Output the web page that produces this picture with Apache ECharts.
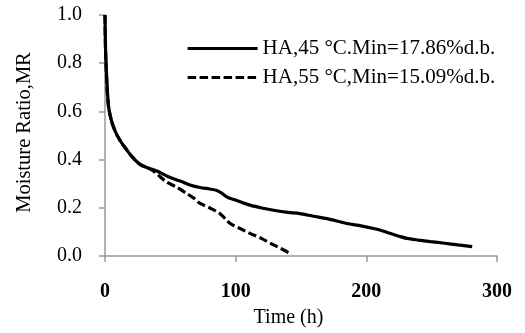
<!DOCTYPE html>
<html><head><meta charset="utf-8">
<script src="https://cdn.jsdelivr.net/npm/echarts@6/dist/echarts.min.js"></script>
<style>html,body{margin:0;padding:0;background:#fff}#c{width:525px;height:333px}</style>
</head><body><div id="c"></div>
<script>
var xTicks = [0, 100, 200, 300];
var yTicks = [0.0, 0.2, 0.4, 0.6, 0.8, 1.0];
var seriesNames = ['HA,45 °C.Min=17.86%d.b.', 'HA,55 °C,Min=15.09%d.b.'];
var ha45 = [[0,1.0],[0.4,0.86],[1,0.78],[2,0.67],[3,0.61],[5,0.56],[8,0.515],[12,0.475],[16,0.445],[21,0.41],[26.8,0.38],[33,0.365],[39.6,0.353],[48,0.33],[57.5,0.311],[65,0.295],[72.8,0.284],[80,0.278],[85.6,0.272],[89,0.262],[93.2,0.245],[100,0.232],[111,0.211],[120,0.199],[129,0.190],[140,0.181],[149,0.176],[159.6,0.165],[170,0.155],[185,0.135],[196,0.125],[205.6,0.114],[212,0.105],[218,0.094],[225,0.082],[231,0.073],[240,0.066],[249,0.060],[260,0.053],[270,0.046],[281,0.039]];
var ha55 = [[0,1.0],[0.4,0.86],[1,0.76],[2,0.66],[3,0.61],[5,0.56],[8,0.515],[12,0.475],[16,0.445],[21,0.41],[26.8,0.38],[33,0.365],[37,0.353],[42,0.33],[47,0.307],[55,0.285],[62.6,0.259],[68,0.24],[72.8,0.218],[80,0.2],[88,0.176],[92,0.155],[95.8,0.135],[103,0.115],[111,0.094],[120,0.072],[129,0.046],[135,0.03],[140.5,0.014]];

var chart = echarts.init(document.getElementById('c'), null, {renderer:'canvas'});
var font = '"Liberation Serif", "Times New Roman", serif';
chart.setOption({
  animation: false,
  grid: {left:105, right:28, top:15, bottom:72, containLabel:false},
  legend: {
    orient:'vertical', left:181, top:33, itemWidth:70, itemHeight:14, itemGap:8,
    data: seriesNames,
    itemStyle:{opacity:0},
    lineStyle:{width:3.2, type:'inherit', color:'#000'},
    textStyle:{fontFamily:font, fontSize:21, lineHeight:21, color:'#000'}
  },
  xAxis: {
    type:'value', min:xTicks[0], max:xTicks[xTicks.length-1], interval:100,
    name:'Time (h)', nameLocation:'middle', nameGap:52,
    nameTextStyle:{fontFamily:font, fontSize:20, color:'#000', padding:[0,25,0,0]},
    axisLine:{lineStyle:{color:'#999', width:1.5}},
    axisTick:{show:true, length:6, lineStyle:{color:'#999', width:1.5}},
    axisLabel:{fontFamily:font, fontSize:20, fontWeight:'bold', color:'#000', margin:26},
    splitLine:{show:false}
  },
  yAxis: {
    type:'value', min:yTicks[0], max:yTicks[yTicks.length-1], interval:0.2,
    name:'Moisture Ratio,MR', nameLocation:'middle', nameGap:70, nameRotate:90,
    nameTextStyle:{fontFamily:font, fontSize:20.5, color:'#000', padding:[0,0,0,6]},
    axisLine:{show:true, lineStyle:{color:'#999', width:1.5}},
    axisTick:{show:true, length:6, lineStyle:{color:'#999', width:1.5}},
    axisLabel:{fontFamily:font, fontSize:20, color:'#000', margin:23, formatter:function(v){return v.toFixed(1);}},
    splitLine:{show:false}
  },
  series: [
    {name:seriesNames[0], type:'line', data:ha45, symbol:'none', smooth:0.3,
     lineStyle:{color:'#000', width:3.2}, itemStyle:{color:'#000'}},
    {name:seriesNames[1], type:'line', data:ha55, symbol:'none', smooth:0.3,
     lineStyle:{color:'#000', width:3.2, type:[8.5,3.5]}, itemStyle:{color:'#000'}}
  ]
});
</script></body></html>
